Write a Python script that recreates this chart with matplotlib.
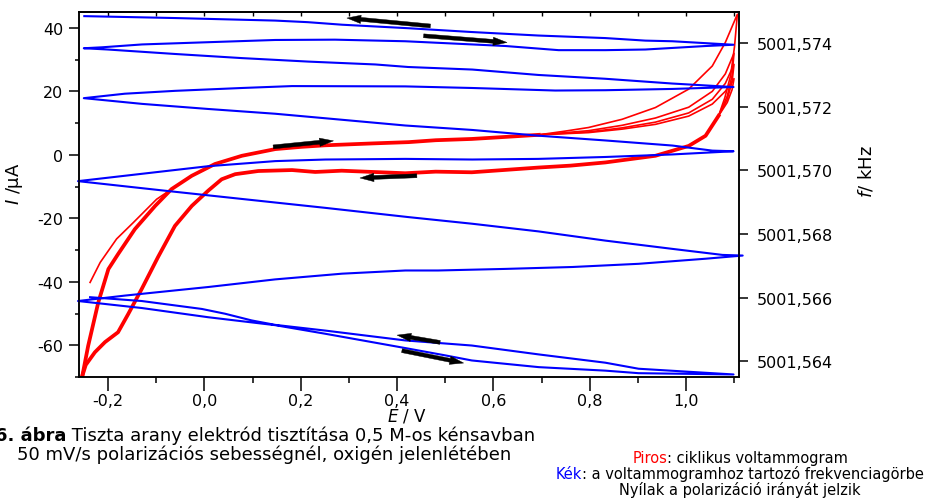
import numpy as np
import matplotlib.pyplot as plt
from matplotlib.ticker import MultipleLocator, FuncFormatter, NullFormatter

# cyclic voltammogram (red): E / V against I / uA
# positive-going branch, the same for every cycle up to 0.69 V
E_anod = [-0.253, -0.241, -0.220, -0.199, -0.179, -0.144, -0.102, -0.068, -0.026, 0.022,
          0.078, 0.147, 0.200, 0.251, 0.300, 0.350, 0.424, 0.480, 0.555, 0.620, 0.694]
I_anod = [-69.6, -60.2, -46.5, -36.0, -31.3, -23.4, -16.1, -10.8, -6.6, -2.9,
          -0.3, 1.8, 2.5, 3.0, 3.3, 3.6, 4.0, 4.6, 5.0, 5.6, 6.3]

# negative-going branch, from 1.07 V back to the lower vertex
E_cath = [1.067, 1.040, 1.005, 0.936, 0.832, 0.760, 0.694, 0.620, 0.555, 0.480, 0.417,
          0.350, 0.285, 0.230, 0.182, 0.112, 0.064, 0.036, 0.008, -0.026, -0.061,
          -0.096, -0.130, -0.158, -0.179, -0.206, -0.227, -0.246, -0.253]
I_cath = [12.3, 6.0, 2.8, -0.3, -2.4, -3.4, -4.0, -4.8, -5.5, -5.3, -5.8,
          -5.4, -5.0, -5.4, -4.8, -5.1, -6.1, -7.7, -11.3, -16.1, -22.4,
          -32.2, -42.3, -50.2, -55.9, -59.0, -62.2, -66.2, -69.6]

# the very first sweep starts at -0.24 V
E_first = [-0.237, -0.216, -0.182, -0.147, -0.099, -0.064]
I_first = [-40.2, -33.9, -26.5, -21.3, -14.0, -10.4]

# upper vertex region of the separate cycles
E_tip_first = [0.694, 0.750, 0.797, 0.867, 0.936, 1.005, 1.054, 1.081, 1.106, 1.100, 1.092, 1.080, 1.067]
I_tip_first = [6.3, 7.5, 8.6, 11.2, 14.9, 20.7, 28.0, 35.4, 44.3, 34.0, 25.0, 18.0, 12.3]
E_tip = [0.694, 0.797, 0.867, 0.936, 1.005, 1.054, 1.081, 1.099, 1.095, 1.085, 1.067]
I_tip2 = [6.3, 7.6, 9.3, 11.6, 15.0, 20.0, 25.5, 32.0, 25.0, 18.5, 12.3]
I_tip3 = [6.3, 7.2, 8.5, 10.3, 13.2, 17.5, 22.5, 28.5, 23.0, 17.5, 12.3]
I_tip4 = [6.3, 7.0, 8.1, 9.6, 12.2, 16.0, 20.0, 24.0, 20.5, 16.5, 12.3]

# frequency curve (blue): E / V against f / kHz, one continuous sweep
E_freq = [-0.249, -0.061, 0.147, 0.215, 0.286, 0.423, 0.555, 0.693, 0.832, 0.915, 0.971, 1.098,
          1.040, 0.915, 0.832, 0.735, 0.625, 0.417, 0.271, 0.147, 0.008, -0.129, -0.212, -0.250,
          -0.200, -0.061, 0.078, 0.216, 0.355, 0.423, 0.556, 0.693, 0.832, 0.971, 1.098,
          0.971, 0.832, 0.728, 0.556, 0.417, 0.182, 0.078, -0.061, -0.165, -0.250,
          -0.129, 0.008, 0.147, 0.286, 0.417, 0.556, 0.693, 0.832, 0.971, 1.054, 1.098,
          0.971, 0.832, 0.693, 0.556, 0.417, 0.251, 0.147, 0.008, -0.130, -0.262,
          -0.082, 0.078, 0.251, 0.423, 0.556, 0.693, 0.832, 0.971, 1.075, 1.117,
          1.040, 0.901, 0.764, 0.625, 0.485, 0.417, 0.286, 0.147, 0.008, -0.082, -0.165, -0.262,
          -0.130, 0.008, 0.147, 0.251, 0.417, 0.500, 0.555, 0.694, 0.832, 0.901, 1.098,
          0.901, 0.832, 0.694, 0.555, 0.417, 0.251, 0.147, 0.098, 0.043, -0.005, -0.130, -0.237]
f_freq = [5001.57485, 5001.57479, 5001.57471, 5001.57466, 5001.57458, 5001.57447,
          5001.57435, 5001.57424, 5001.57416, 5001.57408, 5001.57406, 5001.57395,
          5001.57391, 5001.57380, 5001.57378, 5001.57378, 5001.57391, 5001.57406,
          5001.57411, 5001.57410, 5001.57403, 5001.57396, 5001.57387, 5001.57384,
          5001.57380, 5001.57366, 5001.57353, 5001.57342, 5001.57333, 5001.57325,
          5001.57317, 5001.57300, 5001.57288, 5001.57273, 5001.57262,
          5001.57256, 5001.57252, 5001.57251, 5001.57259, 5001.57264, 5001.57265,
          5001.57259, 5001.57250, 5001.57241, 5001.57227,
          5001.57209, 5001.57193, 5001.57178, 5001.57159, 5001.57141, 5001.57127,
          5001.57109, 5001.57094, 5001.57078, 5001.57062, 5001.57060,
          5001.57050, 5001.57042, 5001.57036, 5001.57034, 5001.57036, 5001.57034,
          5001.57029, 5001.57013, 5001.56989, 5001.56966,
          5001.56936, 5001.56910, 5001.56882, 5001.56853, 5001.56832, 5001.56808,
          5001.56779, 5001.56753, 5001.56734, 5001.56732,
          5001.56722, 5001.56706, 5001.56696, 5001.56690, 5001.56685, 5001.56685,
          5001.56675, 5001.56657, 5001.56633, 5001.56619, 5001.56606, 5001.56589,
          5001.56567, 5001.56538, 5001.56513, 5001.56486, 5001.56441, 5001.56418,
          5001.56402, 5001.56381, 5001.56370, 5001.56362, 5001.56358,
          5001.56376, 5001.56395, 5001.56421, 5001.56449, 5001.56465, 5001.56496,
          5001.56514, 5001.56528, 5001.56549, 5001.56564, 5001.56589, 5001.56601]
f_ticks = [5001.564, 5001.566, 5001.568, 5001.570, 5001.572, 5001.574]

# sweep-direction arrows in (E, I): tail -> head
arrow_tail = [(0.469, 40.6), (0.455, 37.5), (0.143, 2.5), (0.441, -6.6), (0.489, -59.1), (0.410, -61.7)]
arrow_head = [(0.296, 43.1), (0.628, 35.4), (0.268, 4.4), (0.323, -7.3), (0.400, -56.8), (0.538, -65.6)]

W, H = 936, 502
fig = plt.figure(figsize=(W / 100, H / 100), dpi=100)
ax = fig.add_axes([79 / W, 1 - 378 / H, 660.3 / W, 365 / H])

red = '#ff0000'
ax.plot(E_anod, I_anod, color=red, lw=2.7, solid_joinstyle='round')
ax.plot(E_cath, I_cath, color=red, lw=2.7, solid_joinstyle='round')
ax.plot(E_first, I_first, color=red, lw=1.2)
ax.plot(E_tip_first, I_tip_first, color=red, lw=1.2)
for I_tip in (I_tip2, I_tip3, I_tip4):
    ax.plot(E_tip, I_tip, color=red, lw=1.2)

ax.set_xlim(-0.26, 1.11)
ax.set_ylim(-70, 45)
ax.xaxis.set_major_locator(MultipleLocator(0.2))
ax.xaxis.set_minor_locator(MultipleLocator(0.1))
ax.yaxis.set_major_locator(MultipleLocator(20))
ax.yaxis.set_minor_locator(MultipleLocator(10))
ax.xaxis.set_major_formatter(FuncFormatter(lambda v, p: f'{v:.1f}'.replace('.', ',')))
ax.yaxis.set_major_formatter(FuncFormatter(lambda v, p: f'{v:.0f}'))
ax.tick_params(axis='x', which='major', direction='out', length=10, width=1.1, pad=1.5, labelsize=11.5)
ax.tick_params(axis='x', which='minor', direction='out', length=4, width=1.1)
ax.tick_params(axis='y', which='major', direction='out', length=7, width=1.1, pad=4.5, labelsize=11.5)
ax.tick_params(axis='y', which='minor', direction='out', length=3, width=1.1)
for s in ax.spines.values():
    s.set_linewidth(1.1)

ax.set_xlabel('$E$ / V', fontsize=12)
ax.xaxis.set_label_coords(0.497, -0.082)
ax.set_ylabel('$I$ /µA', fontsize=13)
ax.yaxis.set_label_coords(-0.082, 0.532)

top = ax.secondary_xaxis('top')
top.xaxis.set_major_locator(MultipleLocator(0.1))
top.xaxis.set_major_formatter(NullFormatter())
top.tick_params(direction='in', length=3, width=1.0)
top.spines['top'].set_linewidth(1.1)

ax2 = ax.twinx()
ax2.plot(E_freq, f_freq, color='#0000ff', lw=1.5, clip_on=False)
ax2.set_ylim(5001.5635, 5001.57498)
ax2.set_yticks(f_ticks)
ax2.yaxis.set_major_formatter(FuncFormatter(lambda v, p: f'{v:.3f}'.replace('.', ',')))
ax2.tick_params(axis='y', direction='out', length=6.5, width=1.1, pad=6, labelsize=11.5)
ax2.set_ylabel('$f$/ kHz', fontsize=13)
ax2.yaxis.set_label_coords(1.178, 0.564)
for s in ax2.spines.values():
    s.set_linewidth(1.1)

for (et, it), (eh, ih) in zip(arrow_tail, arrow_head):
    ax2.annotate('', xy=(eh, ih), xytext=(et, it), xycoords=ax.transData, textcoords=ax.transData,
                 arrowprops=dict(arrowstyle='simple,head_length=1.0,head_width=0.6,tail_width=0.28',
                                 mutation_scale=10, fc='black', ec='black', lw=0.3,
                                 shrinkA=0, shrinkB=0))

# caption
c1 = fig.text(-5 / W, 1 - 441 / H, '6. ábra', fontsize=13, fontweight='bold', va='baseline')
ax.annotate(' Tiszta arany elektród tisztítása 0,5 M-os kénsavban', xy=(1, 0), xycoords=c1,
            va='bottom', ha='left', fontsize=13)
fig.text(17 / W, 1 - 460 / H, '50 mV/s polarizációs sebességnél, oxigén jelenlétében',
         fontsize=13, va='baseline')

# colour key, centred block at the lower right
xc = 740
k1 = fig.text(0, 1 - 463 / H, 'Piros', color=red, fontsize=10.5, va='baseline')
k1b = ax.annotate(': ciklikus voltammogram', xy=(1, 0), xycoords=k1, va='bottom', ha='left', fontsize=10.5)
k2 = fig.text(0, 1 - 479 / H, 'Kék', color='#0000ff', fontsize=10.5, va='baseline')
k2b = ax.annotate(': a voltammogramhoz tartozó frekvenciagörbe', xy=(1, 0), xycoords=k2,
                  va='bottom', ha='left', fontsize=10.5)
fig.text(xc / W, 1 - 495 / H, 'Nyílak a polarizáció irányát jelzik', fontsize=10.5,
         va='baseline', ha='center')

fig.canvas.draw()
r = fig.canvas.get_renderer()
for a, b in ((k1, k1b), (k2, k2b)):
    w = a.get_window_extent(r).width + b.get_window_extent(r).width
    a.set_x((xc - w / 2) / W)

fig.savefig('out.png', dpi=100)
